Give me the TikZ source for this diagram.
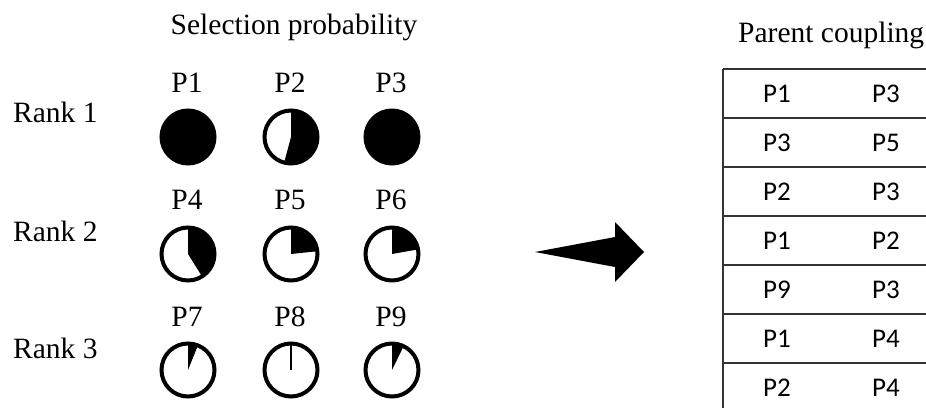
\documentclass[tikz,border=0pt]{standalone}
\usepackage{fontspec}
\setmainfont{Liberation Serif}
\newfontfamily\tabfont{Carlito}
\begin{document}
\begin{tikzpicture}[x=1pt,y=1pt,
  lbl/.style={font=\fontsize{29.5}{35}\selectfont, inner sep=0pt},
  cell/.style={font=\tabfont\fontsize{27}{32}\selectfont, inner sep=0pt},
  ring/.style={draw=black, line width=4pt},
  wedge/.style={fill=black},
  gridline/.style={draw=black!80, line width=1.5pt},
  bigarrow/.style={fill=black}]
\useasboundingbox (0,0) rectangle (926,408);

% circle centres
\foreach \n/\x/\y in {1/188/271,2/291/271,3/392/271,
                      4/188/154,5/291/154,6/392/154,
                      7/188/38,8/291/38,9/392/38}
  \coordinate (c\n) at (\x,\y);

% titles
\node[lbl, anchor=base] (title1) at (294,373) {Selection probability};
\node[lbl, anchor=base west] (title2) at (738,365) {Parent coupling};

% rank labels
\node[lbl, anchor=base west] (r1) at (13,286) {Rank 1};
\node[lbl, anchor=base west] (r2) at (13,167) {Rank 2};
\node[lbl, anchor=base west] (r3) at (13,50) {Rank 3};

% P labels
\foreach \n/\x/\y in {1/187/316,2/290/316,3/391/316,
                      4/187/199,5/290/199,6/391/199,
                      7/187/82,8/290/82,9/391/82}
  \node[lbl, anchor=base] (p\n) at (\x,\y) {P\n};

% wedges
\fill[wedge] (c1) circle (26.5);
\fill[wedge] (c3) circle (26.5);
\foreach \n/\e in {2/-105,4/-58,5/6,6/10,7/68,9/64}
  \fill[wedge] (c\n) -- ++(90:26.5) arc[start angle=90, end angle=\e, radius=26.5] -- cycle;
\draw[line width=1.5pt] (c8) -- ++(0,26.5);

% rings
\foreach \n in {1,...,9}
  \draw[ring] (c\n) circle (26.5);

% arrow
\coordinate (at) at (535,156);
\coordinate (ah) at (644,156);
\fill[bigarrow] (at) -- (615,171) -- (615,186) -- (ah) -- (615,126) -- (615,141) -- cycle;

% table
\draw[gridline] (723,0) -- (723,339);
\foreach \y in {339,290,241,192,143,94,45}
  \draw[gridline] (723,\y) -- (926,\y);
\foreach \a/\b/\y [count=\i] in {P1/P3/314.5,P3/P5/265.5,P2/P3/216.5,P1/P2/167.5,P9/P3/118.5,P1/P4/69.5,P2/P4/20.5}{
  \node[cell] (a\i) at (777,\y) {\a};
  \node[cell] (b\i) at (886,\y) {\b};
}
\end{tikzpicture}
\end{document}
